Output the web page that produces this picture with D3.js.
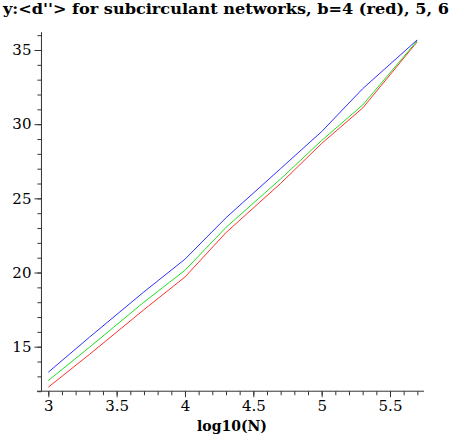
<!DOCTYPE html>
<html><head><meta charset="utf-8">
<script src="https://cdn.jsdelivr.net/npm/d3@7"></script>
<style>body{margin:0;background:#fff}svg{display:block}</style>
</head><body>
<script>
const logN = [3, 3.301, 3.699, 4, 4.301, 4.699, 5, 5.301, 5.699];
const red   = [12.27, 14.48, 17.49, 19.7, 22.7, 26.0, 28.7, 31.1, 35.55];
const green = [12.72, 14.96, 18.0, 20.15, 23.05, 26.3, 28.9, 31.3, 35.62];
const blue  = [13.28, 15.64, 18.69, 20.9, 23.7, 27.0, 29.5, 32.4, 35.68];
const xMajor = [3, 3.5, 4, 4.5, 5, 5.5];
const yMajor = [15, 20, 25, 30, 35];
const title = "y:<d''> for subcirculant networks, b=4 (red), 5, 6";
const xLabel = "log10(N)";

const FONT = "'DejaVu Serif', 'Liberation Serif', serif";
const W = 452, H = 435;
const svg = d3.select("body").append("svg").attr("width", W).attr("height", H);
const x = d3.scaleLinear().domain([3, 5.5]).range([48.3, 390]);
const y = d3.scaleLinear().domain([15, 35]).range([346.7, 50]);
const axisCol = "#333";

// title
svg.append("text").attr("x", 3).attr("y", 14)
  .style("font-family", FONT).attr("font-weight", "bold").attr("font-size", 14)
  .attr("textLength", 446).attr("lengthAdjust", "spacingAndGlyphs")
  .text(title);

// y axis
const yAxisG = svg.append("g").attr("transform", `translate(${x(2.95)},0)`);
yAxisG.append("line").attr("y1", y(12)).attr("y2", y(36.2)).attr("stroke", axisCol);
yAxisG.call(d3.axisLeft(y).tickValues(d3.range(12, 37, 1)).tickSize(4).tickFormat(""))
  .call(g => g.select(".domain").remove())
  .call(g => g.selectAll("line").attr("stroke", axisCol));
yAxisG.append("g").call(d3.axisLeft(y).tickValues(yMajor).tickSize(7).tickPadding(3).tickFormat(d3.format("d")))
  .call(g => g.select(".domain").remove())
  .call(g => g.selectAll("line").attr("stroke", axisCol))
  .call(g => g.selectAll("text").style("font-family", FONT).attr("font-size", 15).attr("fill", "#000"));

// x axis
const xAxisG = svg.append("g").attr("transform", `translate(0,${y(12)})`);
xAxisG.append("line").attr("x1", x(2.917)).attr("x2", x(5.749)).attr("stroke", axisCol);
xAxisG.call(d3.axisBottom(x).tickValues(d3.range(30, 58, 1).map(v => v / 10)).tickSize(4).tickFormat(""))
  .call(g => g.select(".domain").remove())
  .call(g => g.selectAll("line").attr("stroke", axisCol));
xAxisG.append("g").call(d3.axisBottom(x).tickValues(xMajor).tickSize(6).tickPadding(3).tickFormat(d3.format("")))
  .call(g => g.select(".domain").remove())
  .call(g => g.selectAll("line").attr("stroke", axisCol))
  .call(g => g.selectAll("text").style("font-family", FONT).attr("font-size", 15).attr("fill", "#000"));

svg.append("text").attr("x", 232).attr("y", 431).attr("text-anchor", "middle")
  .style("font-family", FONT).attr("font-weight", "bold").attr("font-size", 14)
  .text(xLabel);

// lines
const line = d3.line().x((d, i) => x(logN[i])).y(d => y(d));
[[red, "#ff3030"], [green, "#20e020"], [blue, "#3030ff"]].forEach(([s, c]) => {
  svg.append("path").datum(s).attr("d", line).attr("fill", "none")
    .attr("stroke", c).attr("stroke-width", 1);
});
</script>
</body></html>
